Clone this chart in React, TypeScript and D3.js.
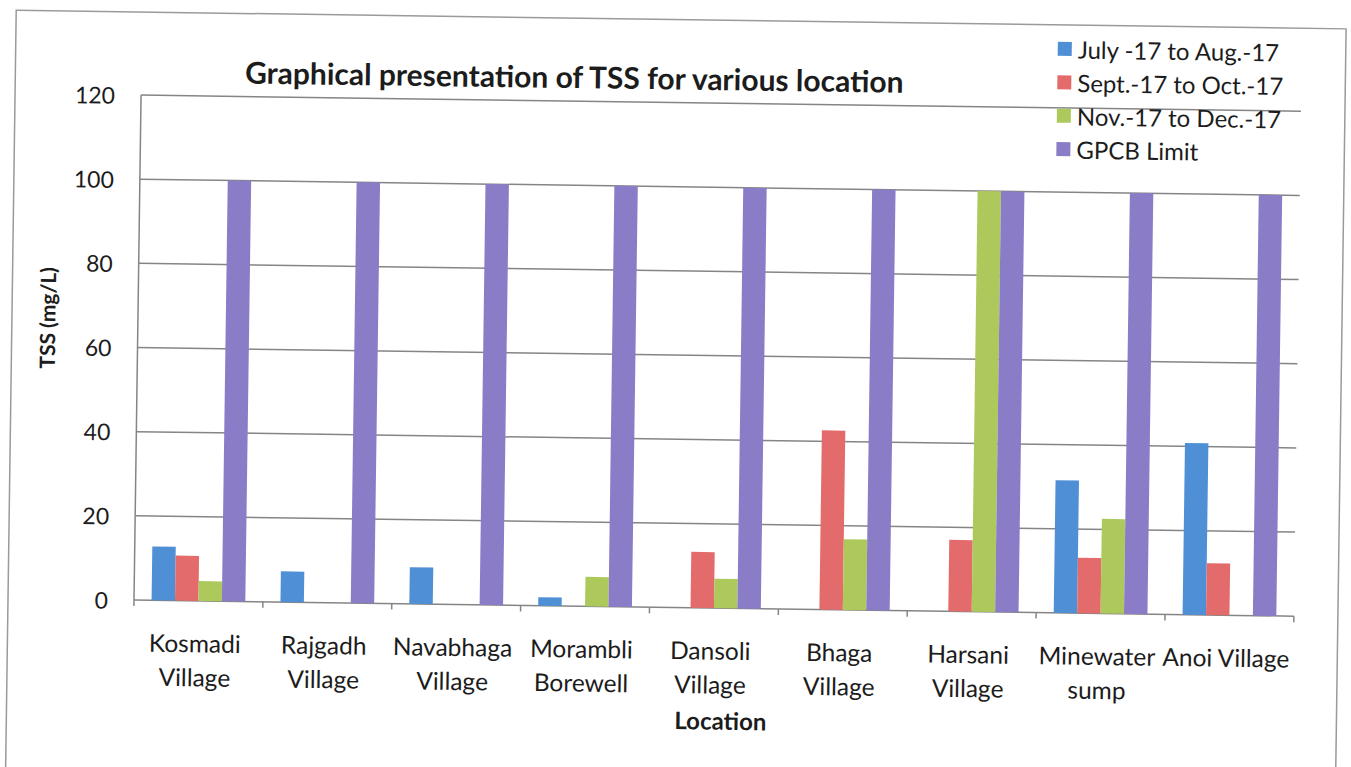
import React from 'react';
import * as d3 from 'd3';

const locations = [
  'Kosmadi\nVillage',
  'Rajgadh\nVillage',
  'Navabhaga\nVillage',
  'Morambli\nBorewell',
  'Dansoli\nVillage',
  'Bhaga\nVillage',
  'Harsani\nVillage',
  'Minewater\nsump',
  'Anoi Village',
];
const seriesNames = ['July -17 to Aug.-17', 'Sept.-17 to Oct.-17', 'Nov.-17 to Dec.-17', 'GPCB Limit'];
const julAug = [12.8, 7.3, 8.7, 2, 0, 0, 0, 31.5, 40.8];
const septOct = [10.7, 0, 0, 0, 13.3, 42.6, 17, 13.2, 12.3];
const novDec = [4.7, 0, 0, 7, 7, 16.8, 100, 22.5, 0];
const gpcbLimit = [100, 100, 100, 100, 100, 100, 100, 100, 100];
const yTicks = [0, 20, 40, 60, 80, 100, 120];
const colors = ['#4f8fd6', '#e36b6b', '#adc95c', '#8b7cc8'];

const W = 1351;
const H = 767;
const L = 134, R = 1294, T = 95, B = 600;
const FONT = 'Lato, "Open Sans", sans-serif';

export default function App() {
  const series = [julAug, septOct, novDec, gpcbLimit];
  const x = d3.scaleBand<number>().domain(d3.range(locations.length)).range([L, R]).padding(0);
  const xs = d3.scaleBand<number>().domain(d3.range(series.length)).range([0, x.bandwidth()]).paddingInner(0).paddingOuter(0.75);
  const y = d3.scaleLinear().domain([0, 120]).range([B, T]);
  const grid = '#858585';
  const txt = '#1c1c1c';

  return (
    <svg width={W} height={H} style={{ position: 'absolute', left: 0, top: 0, background: '#fff' }}>
      <rect x={0} y={0} width={W} height={H} fill="#fff" />
      <g transform={`rotate(0.8, ${L}, ${B})`}>
        <rect x={8} y={12} width={1330} height={770} fill="none" stroke="#9a9a9a" strokeWidth={1.5} />
        {yTicks.map((t) => (
          <line key={t} x1={L} x2={R} y1={y(t)} y2={y(t)} stroke={grid} strokeWidth={1.5} />
        ))}
        <line x1={L} x2={L} y1={T} y2={B} stroke={grid} strokeWidth={1.5} />
        {d3.range(locations.length + 1).map((i) => {
          const xx = i < locations.length ? (x(i) as number) : R;
          return <line key={i} x1={xx} x2={xx} y1={B} y2={B + 6} stroke={grid} strokeWidth={1.5} />;
        })}
        {series.map((vals, si) =>
          vals.map((v, ci) => (
            <rect
              key={`${si}-${ci}`}
              x={(x(ci) as number) + (xs(si) as number)}
              y={y(v)}
              width={xs.bandwidth()}
              height={B - y(v)}
              fill={colors[si]}
            />
          ))
        )}
        {yTicks.map((t) => (
          <text key={t} x={L - 26} y={y(t)} textAnchor="end" dominantBaseline="central" fontFamily={FONT} fontSize={23} fill={txt}>
            {t}
          </text>
        ))}
        {locations.map((loc, i) => (
          <text key={i} textAnchor="middle" fontFamily={FONT} fontSize={24.5} fill={txt}>
            {loc.split('\n').map((ln, k) => (
              <tspan key={k} x={(x(i) as number) + x.bandwidth() / 2 - 3} y={642 + k * 34} dominantBaseline="central">
                {ln}
              </tspan>
            ))}
          </text>
        ))}
        <text x={722} y={712} textAnchor="middle" dominantBaseline="central" fontFamily={FONT} fontWeight="bold" fontSize={24} fill={txt}>
          Location
        </text>
        <text
          transform={`translate(43, 319) rotate(-90)`}
          textAnchor="middle"
          dominantBaseline="central"
          fontFamily={FONT}
          fontWeight="bold"
          fontSize={21}
          fill={txt}
        >
          TSS (mg/L)
        </text>
        <text x={567} y={70} textAnchor="middle" dominantBaseline="central" fontFamily={FONT} fontWeight="bold" fontSize={30} fill={txt}>
          Graphical presentation of TSS for various location
        </text>
        {seriesNames.map((n, i) => (
          <g key={n} transform={`translate(1050, ${36 + i * 33.4})`}>
            <rect x={0} y={-7} width={14} height={14} fill={colors[i]} />
            <text x={20} y={0} dominantBaseline="central" fontFamily={FONT} fontSize={24} fill={txt}>
              {n}
            </text>
          </g>
        ))}
      </g>
    </svg>
  );
}
